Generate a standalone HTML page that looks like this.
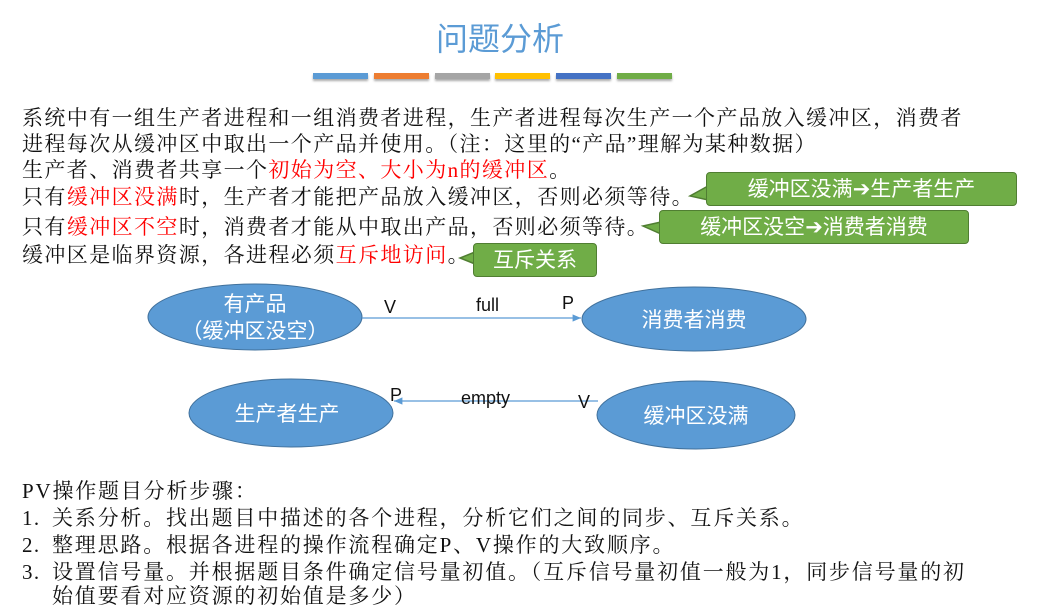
<!DOCTYPE html>
<html><head><meta charset="utf-8"><style>
body{margin:0;width:1059px;height:612px;background:#fff;position:relative;overflow:hidden;font-family:"Liberation Serif","Noto Serif CJK SC",serif;}
.t{position:absolute;white-space:nowrap;font-size:21px;letter-spacing:1.4px;color:#111;line-height:26px;}
.b{letter-spacing:1.8px;}
.r{color:#ff0000;}
.bar{position:absolute;top:73px;height:6px;width:55px;box-shadow:0 2px 2px #aaa;}
.c{position:absolute;background:#70ad47;border:1.5px solid #507e32;border-radius:4px;color:#fff;font-family:"Liberation Sans","Noto Sans CJK SC",sans-serif;font-size:21px;text-align:center;}
.ar{font-family:"DejaVu Sans",sans-serif;font-weight:bold;}
</style></head><body>
<div style="position:absolute;left:0;width:1000px;top:14px;text-align:center;font-family:'Liberation Sans','Noto Sans CJK SC',sans-serif;font-size:32px;color:#5b9bd5;">问题分析</div>
<div class="bar" style="left:313px;background:#5b9bd5"></div>
<div class="bar" style="left:374px;background:#ed7d31"></div>
<div class="bar" style="left:435px;background:#a5a5a5"></div>
<div class="bar" style="left:495px;background:#ffc000"></div>
<div class="bar" style="left:556px;background:#4472c4"></div>
<div class="bar" style="left:617px;background:#70ad47"></div>

<div class="t" style="left:22px;top:105px">系统中有一组生产者进程和一组消费者进程，生产者进程每次生产一个产品放入缓冲区，消费者</div>
<div class="t" style="left:22px;top:131px">进程每次从缓冲区中取出一个产品并使用。（注：这里的“产品”理解为某种数据）</div>
<div class="t" style="left:22px;top:157px">生产者、消费者共享一个<span class="r">初始为空、大小为n的缓冲区</span>。</div>
<div class="t" style="left:22px;top:184px">只有<span class="r">缓冲区没满</span>时，生产者才能把产品放入缓冲区，否则必须等待。</div>
<div class="t" style="left:22px;top:214px">只有<span class="r">缓冲区不空</span>时，消费者才能从中取出产品，否则必须等待。</div>
<div class="t" style="left:22px;top:242px">缓冲区是临界资源，各进程必须<span class="r">互斥地访问</span>。</div>

<svg style="position:absolute;left:0;top:0" width="1059" height="612">
<polygon points="708,186 690,196 708,200" fill="#70ad47" stroke="#507e32" stroke-width="1.5"/>
<polygon points="661,222 643,226 661,234" fill="#70ad47" stroke="#507e32" stroke-width="1.5"/>
<polygon points="475,252 460,258 475,264" fill="#70ad47" stroke="#507e32" stroke-width="1.5"/>
<defs><marker id="a" markerWidth="8" markerHeight="8" refX="7" refY="4" orient="auto"><path d="M0,1 L7,4 L0,7z" fill="#5b9bd5"/></marker></defs>
<ellipse cx="255" cy="317" rx="107" ry="33" fill="#5b9bd5" stroke="#41719c" stroke-width="1"/>
<ellipse cx="694" cy="319" rx="112" ry="32" fill="#5b9bd5" stroke="#41719c" stroke-width="1"/>
<ellipse cx="291" cy="413" rx="102" ry="34" fill="#5b9bd5" stroke="#41719c" stroke-width="1"/>
<ellipse cx="696" cy="415" rx="99" ry="34" fill="#5b9bd5" stroke="#41719c" stroke-width="1"/>
<line x1="362" y1="318" x2="581" y2="318" stroke="#5b9bd5" stroke-width="1.2" marker-end="url(#a)"/>
<line x1="598" y1="401" x2="394" y2="401" stroke="#5b9bd5" stroke-width="1.2" marker-end="url(#a)"/>
<g font-family="Liberation Sans,sans-serif" font-size="18" fill="#111">
<text x="384" y="313">V</text><text x="476" y="311">full</text><text x="562" y="309">P</text>
<text x="390" y="401">P</text><text x="461" y="404">empty</text><text x="578" y="408">V</text>
</g>
<g font-family="Liberation Sans,Noto Sans CJK SC,sans-serif" font-size="21" fill="#fff" text-anchor="middle">
<text x="255" y="311">有产品</text><text x="255" y="338">（缓冲区没空）</text>
<text x="694" y="327">消费者消费</text>
<text x="287" y="421">生产者生产</text>
<text x="696" y="423">缓冲区没满</text>
</g>
</svg>
<div class="c" style="left:706px;top:172px;width:309px;height:32px;line-height:32px">缓冲区没满<span class="ar">➔</span>生产者生产</div>
<div class="c" style="left:659px;top:210px;width:308px;height:32px;line-height:32px">缓冲区没空<span class="ar">➔</span>消费者消费</div>
<div class="c" style="left:473px;top:243px;width:122px;height:32px;line-height:34px">互斥关系</div>

<div class="t b" style="left:22px;top:478px">PV操作题目分析步骤：</div>
<div class="t" style="left:22px;top:505px">1.</div><div class="t b" style="left:52px;top:505px">关系分析。找出题目中描述的各个进程，分析它们之间的同步、互斥关系。</div>
<div class="t" style="left:22px;top:532px">2.</div><div class="t b" style="left:52px;top:532px">整理思路。根据各进程的操作流程确定P、V操作的大致顺序。</div>
<div class="t" style="left:22px;top:559px">3.</div><div class="t b" style="left:52px;top:559px">设置信号量。并根据题目条件确定信号量初值。（互斥信号量初值一般为1，同步信号量的初</div>
<div class="t b" style="left:52px;top:583px">始值要看对应资源的初始值是多少）</div>
</body></html>
